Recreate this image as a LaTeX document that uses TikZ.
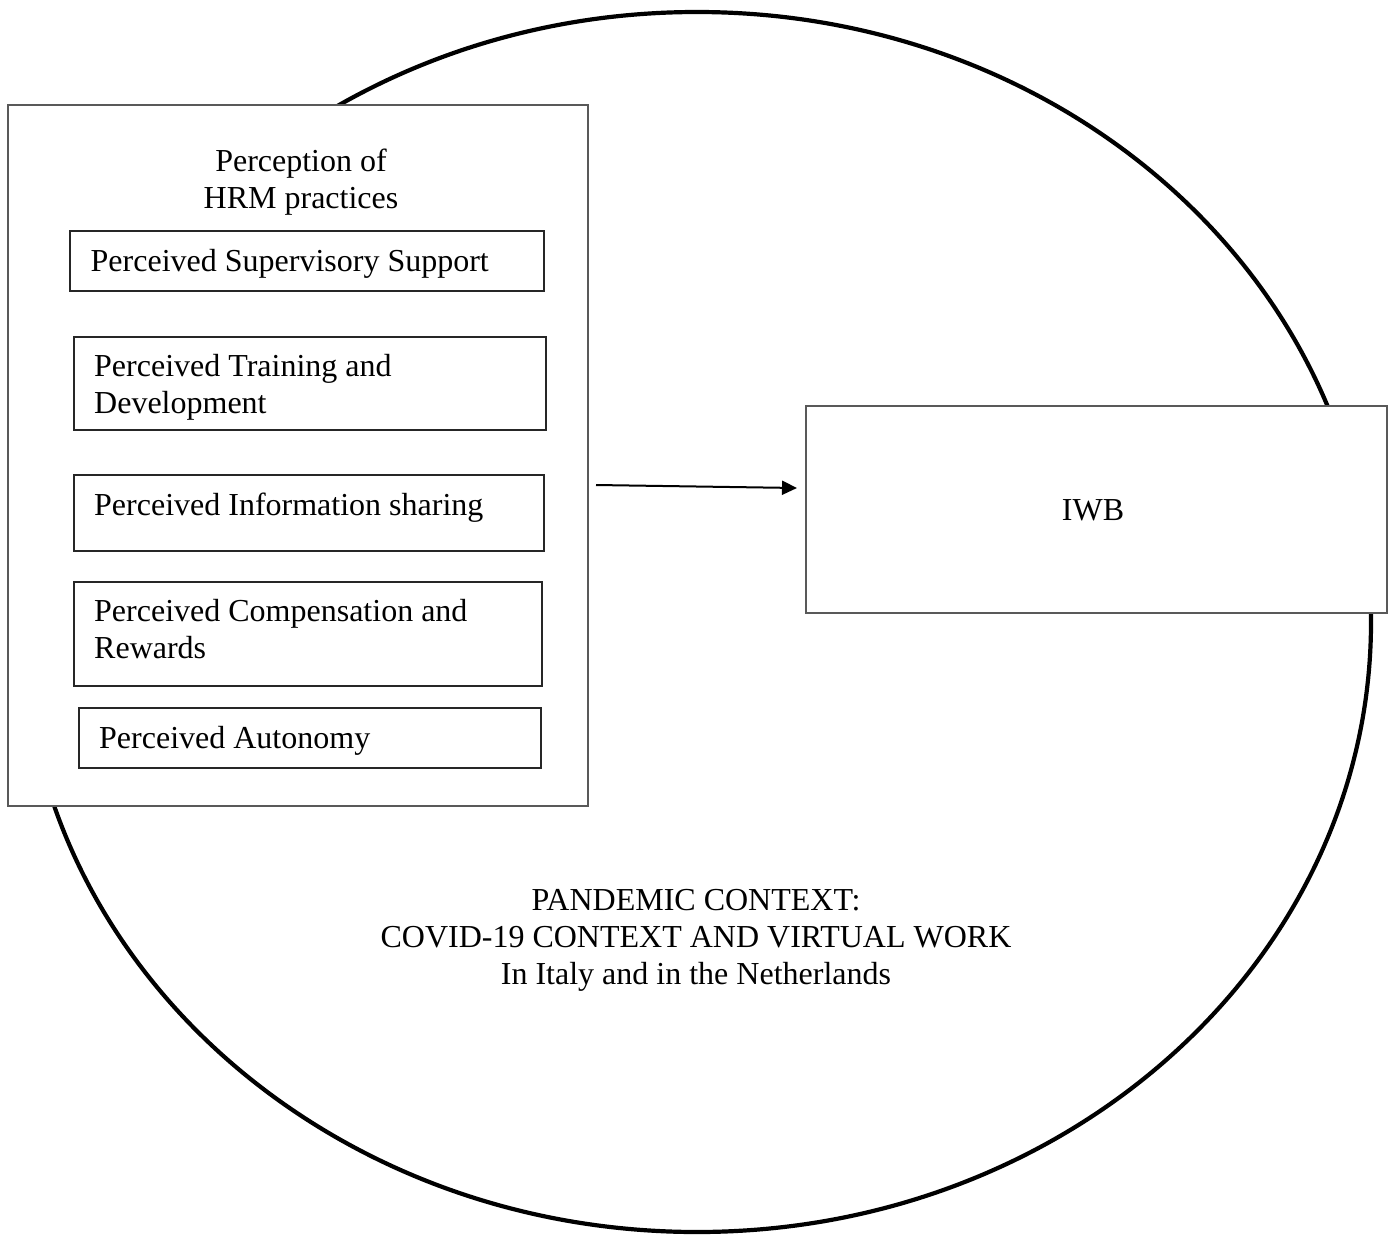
\documentclass[tikz,border=0pt]{standalone}
\usepackage{fontspec}
\setmainfont{Liberation Serif}
\usetikzlibrary{positioning,
        shapes.geometric,
        arrows.meta}
\tikzset{
  hrmbox/.style={draw=black!85,line width=1.3pt,fill=white,inner sep=0pt,outer sep=0pt,anchor=north west},
  lbl/.style={inner sep=0pt,font=\fontsize{32}{37}\selectfont}
}

\begin{document}
\begin{tikzpicture}[x=1pt,y=-1pt]
            \useasboundingbox (0,0) rectangle (1394,1234);
            \node [ellipse,draw,line width=4.2pt,minimum width=1348pt,minimum height=1220pt,inner sep=0pt] (ctx) at (697,622) {};
            \node [hrmbox,draw=black!65,minimum width=580pt,minimum height=701pt] (hrm) at (8,105) {};
            \node [hrmbox,minimum width=474pt,minimum height=60pt] (sup) at (70,231) {};
            \node [hrmbox,minimum width=472pt,minimum height=93pt] (trn) at (74,337) {};
            \node [hrmbox,minimum width=470pt,minimum height=76pt] (inf) at (74,475) {};
            \node [hrmbox,minimum width=468pt,minimum height=104pt] (cmp) at (74,582) {};
            \node [hrmbox,minimum width=462pt,minimum height=60pt] (aut) at (79,708) {};
            \node [hrmbox,draw=black!65,minimum width=581pt,minimum height=207pt] (iwb) at (806,406) {};

            % multi-line labels sit on the baseline of their last line
            \node [lbl,align=center,anchor=base] (hrmT) at (301,208) {Perception of\\HRM practices};
            \node [lbl,anchor=base west] (supT) at (90.5,271) {Perceived Supervisory Support};
            \node [lbl,align=left,anchor=base west] (trnT) at (94,413) {Perceived Training and\\Development};
            \node [lbl,anchor=base west] (infT) at (94,515) {Perceived Information sharing};
            \node [lbl,align=left,anchor=base west] (cmpT) at (94,658) {Perceived Compensation and\\Rewards};
            \node [lbl,anchor=base west] (autT) at (99,748) {Perceived Autonomy};
            \node [lbl,anchor=base] (iwbT) at (1093,520) {IWB};
            \node [lbl,align=center,anchor=base] (ctxT) at (696,984) {PANDEMIC CONTEXT:\\COVID-19 CONTEXT AND VIRTUAL WORK\\In Italy and in the Netherlands};

            \coordinate (a0) at (596,485);
            \coordinate (a1) at (797,488);
            \draw [-{Triangle[length=15pt,width=14pt]}, line width=2pt] (a0) -- (a1);
\end{tikzpicture}
\end{document}
